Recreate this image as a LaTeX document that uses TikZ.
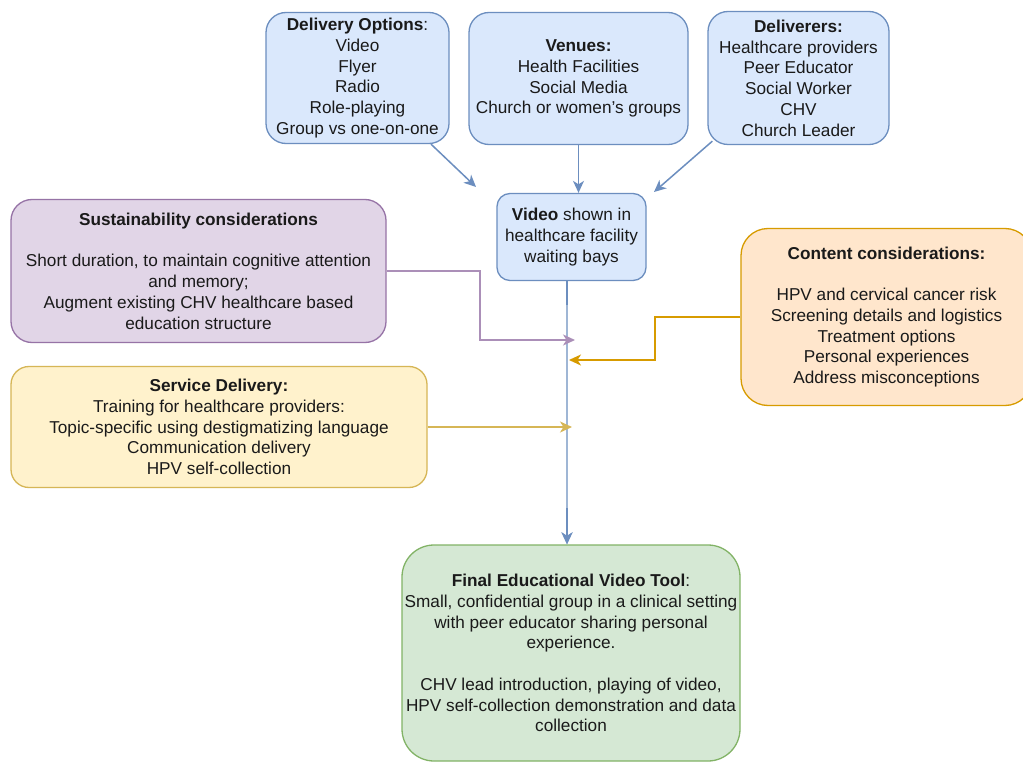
\documentclass[tikz,border=0pt]{standalone}
\usepackage{fontspec}
\setmainfont{Liberation Sans}
\usetikzlibrary{arrows.meta,calc}
\definecolor{bfill}{HTML}{DAE8FC}\definecolor{bdraw}{HTML}{6C8EBF}
\definecolor{pfill}{HTML}{E1D5E7}\definecolor{pdraw}{HTML}{9673A6}
\definecolor{ofill}{HTML}{FFE6CC}\definecolor{odraw}{HTML}{D79B00}
\definecolor{yfill}{HTML}{FFF2CC}\definecolor{ydraw}{HTML}{D6B656}
\definecolor{gfill}{HTML}{D5E8D4}\definecolor{gdraw}{HTML}{82B366}
\definecolor{txt}{HTML}{1A1A1A}
\begin{document}
\begin{tikzpicture}[x=1pt,y=-1pt,
  box/.style={rectangle, line width=1.3pt, align=center, inner sep=0pt, text=txt,
    font=\fontsize{17.2}{20.75}\selectfont},
  bluebox/.style={box, fill=bfill, draw=bdraw},
  conn/.style={line width=1.5pt, -{Stealth[length=12pt,width=11pt,inset=3.5pt]}},
]
\useasboundingbox (0,0) rectangle (1023,762);
\fill[white] (0,0) rectangle (1023,762);

\node[bluebox, rounded corners=20pt, minimum width=183pt, minimum height=131pt] (dopt) at (357.5,78)
  {\textbf{Delivery Options}:\\Video\\Flyer\\Radio\\Role-playing\\Group vs one-on-one};
\node[bluebox, rounded corners=20pt, minimum width=219pt, minimum height=132pt] (venues) at (578.5,78.5)
  {\textbf{Venues:}\\Health Facilities\\Social Media\\Church or women's groups};
\node[bluebox, rounded corners=20pt, minimum width=181pt, minimum height=133pt] (deliv) at (798.5,78)
  {\textbf{Deliverers:}\\Healthcare providers\\Peer Educator\\Social Worker\\CHV\\Church Leader};
\node[bluebox, rounded corners=13pt, minimum width=149pt, minimum height=87pt] (video) at (571.5,237)
  {\textbf{Video} shown in\\healthcare facility\\waiting bays};
\node[box, fill=pfill, draw=pdraw, rounded corners=21pt, minimum width=375pt, minimum height=143pt] (sust) at (198.5,271)
  {\textbf{Sustainability considerations}\\[20.75pt]Short duration, to maintain cognitive attention\\and memory;\\Augment existing CHV healthcare based\\education structure};
\node[box, fill=ofill, draw=odraw, rounded corners=27pt, minimum width=291pt, minimum height=177pt] (content) at (886.5,317)
  {\textbf{Content considerations:}\\[20.75pt]HPV and cervical cancer risk\\Screening details and logistics\\Treatment options\\Personal experiences\\Address misconceptions};
\node[box, fill=yfill, draw=ydraw, rounded corners=18pt, minimum width=416pt, minimum height=121pt] (service) at (219,427)
  {\textbf{Service Delivery:}\\Training for healthcare providers:\\Topic-specific using destigmatizing language\\Communication delivery\\HPV self-collection};
\node[box, fill=gfill, draw=gdraw, rounded corners=32pt, minimum width=338pt, minimum height=216pt] (final) at (571,653)
  {\textbf{Final Educational Video Tool}:\\Small, confidential group in a clinical setting\\with peer educator sharing personal\\experience.\\[20.75pt]CHV lead introduction, playing of video,\\HPV self-collection demonstration and data\\collection};

\coordinate (a1e) at (476,187);
\coordinate (a3e) at (654,192);
\coordinate (pj) at (480,300);
\coordinate (pe) at (575,340);
\coordinate (oj) at (655,340);
\coordinate (oe) at (569,360);
\coordinate (ye) at (572,427);

\draw[conn, bdraw] ([xshift=73.5pt]dopt.south) -- (a1e);
\draw[conn, bdraw] (venues.south) -- (venues.south |- video.north);
\draw[conn, bdraw] ([shift={(5,-4)}]deliv.south west) -- (a3e);
\draw[conn, line width=2pt, bdraw!65] ([xshift=-4.5pt]video.south) -- ([xshift=-4pt]final.north);
\draw[line width=2pt, bdraw] ([xshift=-4.5pt]video.south) -- ++(0,24);
\draw[conn, line width=2pt, bdraw] ([xshift=-4pt]final.north) ++(0,-36) -- ([xshift=-4pt]final.north);
\draw[conn, pdraw!80] (sust.east) -| (pj) |- (pe);
\draw[conn, odraw] (content.west) -| (oj) |- (oe);
\draw[conn, ydraw] (service.east) -- (service.east -| ye);
\end{tikzpicture}
\end{document}
